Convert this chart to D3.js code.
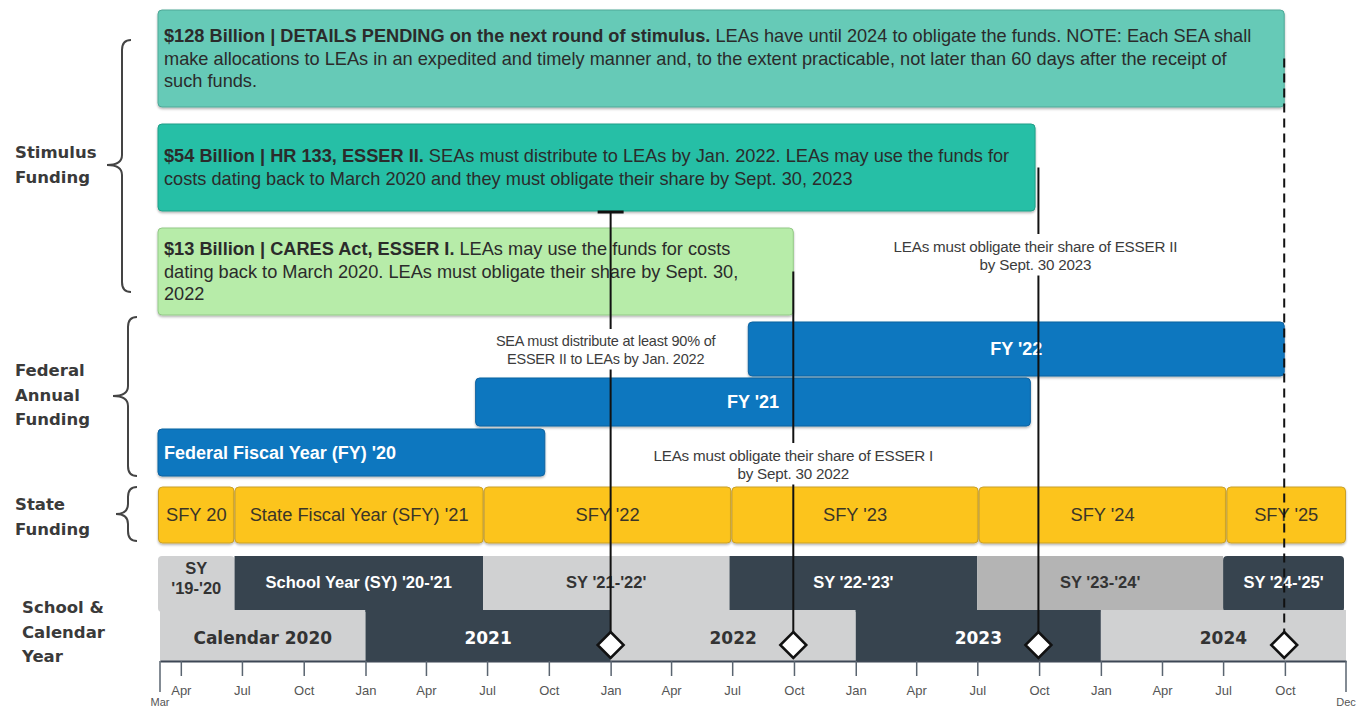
<!DOCTYPE html>
<html><head><meta charset="utf-8">
<script src="https://cdn.jsdelivr.net/npm/d3@7"></script>
<style>body{margin:0;background:#fff} svg{display:block}</style>
</head><body><svg id="c" width="1359" height="713"></svg>
<script>
// ---------------- DATA ----------------
const axisStart = "2020-03-01";
const axisEnd = "2024-12-31";
const axisEndLabels = ["Mar", "Dec"];

// Stimulus funding
const stimulusBold = [
  "$128 Billion | DETAILS PENDING on the next round of stimulus.",
  "$54 Billion | HR 133, ESSER II.",
  "$13 Billion | CARES Act, ESSER I."
];
const stimulusLines = [
  [" LEAs have until 2024 to obligate the funds. NOTE: Each SEA shall",
   "make allocations to LEAs in an expedited and timely manner and, to the extent practicable, not later than 60 days after the receipt of",
   "such funds."],
  [" SEAs must distribute to LEAs by Jan. 2022. LEAs may use the funds for",
   "costs dating back to March 2020 and they must obligate their share by Sept. 30, 2023"],
  [" LEAs may use the funds for costs",
   "dating back to March 2020. LEAs must obligate their share by Sept. 30,",
   "2022"]
];
const stimulusStart = ["2020-03-01", "2020-03-01", "2020-03-01"];
const stimulusEnd = ["2024-09-30", "2023-09-25", "2022-09-30"];

// Federal annual funding
const fyLabels = ["FY '22", "FY '21", "Federal Fiscal Year (FY) '20"];
const fyStart = ["2022-07-25", "2021-06-14", "2020-03-01"];
const fyEnd = ["2024-09-30", "2023-09-18", "2021-09-25"];

// State funding
const sfyLabels = ["SFY 20", "State Fiscal Year (SFY) '21", "SFY '22", "SFY '23", "SFY '24", "SFY '25"];
const sfyBounds = ["2020-03-01", "2020-06-20", "2021-06-26", "2022-06-30", "2023-07-03", "2024-07-06", "2024-12-31"];

// School years
const syLabels = [["SY", "'19-'20"], ["School Year (SY) '20-'21"], ["SY '21-'22'"], ["SY '22-'23'"], ["SY '23-'24'"], ["SY '24-'25'"]];
const syBounds = ["2020-03-01", "2020-06-20", "2021-06-25", "2022-06-27", "2023-07-01", "2024-07-01", "2024-12-28"];

// Calendar years
const calLabels = ["Calendar 2020", "2021", "2022", "2023", "2024"];
const calBounds = ["2020-03-01", "2021-01-01", "2022-01-01", "2023-01-01", "2024-01-01", "2024-12-31"];

// Milestones
const milestoneDates = ["2022-01-01", "2022-09-30", "2023-09-30", "2024-09-30"];
const milestoneNotes = [
  ["SEA must distribute at least 90% of", "ESSER II to LEAs by Jan. 2022"],
  ["LEAs must obligate their share of ESSER I", "by Sept. 30 2022"],
  ["LEAs must obligate their share of ESSER II", "by Sept. 30 2023"],
  []
];

// Group labels
const groupLabels = [["Stimulus", "Funding"], ["Federal", "Annual", "Funding"], ["State", "Funding"], ["School &", "Calendar", "Year"]];

// ---------------- LAYOUT / STYLE ----------------
const parse = d3.timeParse("%Y-%m-%d");
const svg = d3.select("#c");
const x = d3.scaleTime().domain([parse(axisStart), parse(axisEnd)]).range([160, 1346]);

const sansF = "'Liberation Sans', Arial, sans-serif";
const wideF = "'DejaVu Sans', Verdana, sans-serif";

const defs = svg.append("defs");
const f = defs.append("filter").attr("id", "sh").attr("x", "-5%").attr("y", "-10%").attr("width", "110%").attr("height", "130%");
f.append("feDropShadow").attr("dx", 0).attr("dy", 1.5).attr("stdDeviation", 1.2).attr("flood-color", "#000").attr("flood-opacity", 0.3);

const stimTop = [10, 124, 228], stimH = [97, 87, 87];
const stimFill = ["#66cab7", "#28bfa6", "#b7eca9"];
const stimStroke = ["#4ea897", "#1f9f88", "#93c987"];

const gStim = svg.append("g");
stimulusBold.forEach((b, i) => {
  const x0 = x(parse(stimulusStart[i])) - 2, x1 = x(parse(stimulusEnd[i]));
  gStim.append("rect").attr("x", x0).attr("y", stimTop[i]).attr("width", x1 - x0).attr("height", stimH[i])
    .attr("rx", 4).attr("fill", stimFill[i]).attr("stroke", stimStroke[i]).attr("stroke-width", 1).attr("filter", "url(#sh)");
  const lines = stimulusLines[i];
  const lh = 22.5;
  const mid = stimTop[i] + stimH[i] / 2;
  const firstBase = mid - (lines.length - 1) * lh / 2 + 6;
  const t = gStim.append("text").attr("font-family", sansF).attr("font-size", 18.2).attr("fill", "#2b2b2b");
  lines.forEach((ln, j) => {
    const yy = firstBase + j * lh;
    if (j === 0) {
      t.append("tspan").attr("x", x0 + 6).attr("y", yy).attr("font-weight", "bold").text(b);
      t.append("tspan").text(ln);
    } else {
      t.append("tspan").attr("x", x0 + 6).attr("y", yy).text(ln);
    }
  });
});

// Federal
const fyTop = [322, 378, 429], fyH = [54, 48, 47];
const gFy = svg.append("g");
fyLabels.forEach((lab, i) => {
  const x0 = x(parse(fyStart[i])) - (i === 2 ? 2 : 0), x1 = x(parse(fyEnd[i]));
  gFy.append("rect").attr("x", x0).attr("y", fyTop[i]).attr("width", x1 - x0).attr("height", fyH[i])
    .attr("rx", 4).attr("fill", "#0a77bf").attr("stroke", "#0a62a0").attr("stroke-width", 1).attr("filter", "url(#sh)");
  const t = gFy.append("text").attr("font-family", sansF).attr("font-size", 18).attr("font-weight", "bold")
    .attr("fill", "#fff").attr("y", fyTop[i] + fyH[i] / 2 + 6).text(lab);
  if (i === 2) t.attr("x", x0 + 6);
  else t.attr("x", (x0 + x1) / 2).attr("text-anchor", "middle");
});

// State
const gS = svg.append("g");
sfyLabels.forEach((lab, i) => {
  const x0 = x(parse(sfyBounds[i])) - (i === 0 ? 2 : 0), x1 = x(parse(sfyBounds[i + 1]));
  gS.append("rect").attr("x", x0 + 0.5).attr("y", 487).attr("width", x1 - x0 - 1).attr("height", 56)
    .attr("rx", 4).attr("fill", "#fcc41e").attr("stroke", "#c9a02a").attr("stroke-width", 1).attr("filter", "url(#sh)");
  gS.append("text").attr("x", (x0 + x1) / 2).attr("y", 521).attr("text-anchor", "middle")
    .attr("font-family", sansF).attr("font-size", 18.3).attr("fill", "#3a3528").text(lab);
});

// School years
const syFill = ["#d0d1d2", "#37444f", "#d0d1d2", "#37444f", "#b4b4b4", "#37444f"];
const syText = ["#333", "#fff", "#333", "#fff", "#333", "#fff"];
const gSy = svg.append("g");
syLabels.forEach((lab, i) => {
  const x0 = x(parse(syBounds[i])) - (i === 0 ? 2 : 0), x1 = x(parse(syBounds[i + 1]));
  gSy.append("rect").attr("x", x0).attr("y", 556).attr("width", x1 - x0).attr("height", 56)
    .attr("rx", i === 0 || i === 5 ? 4 : 0).attr("fill", syFill[i]);
  const t = gSy.append("text").attr("text-anchor", "middle").attr("font-family", sansF)
    .attr("font-size", 16.5).attr("font-weight", "bold").attr("fill", syText[i]);
  if (lab.length === 1) {
    t.append("tspan").attr("x", (x0 + x1) / 2).attr("y", 588).text(lab[0]);
  } else {
    lab.forEach((l, j) => t.append("tspan").attr("x", (x0 + x1) / 2).attr("y", 574 + j * 20).text(l));
  }
});

// Calendar years
const calFill = ["#d0d1d2", "#37444f", "#d0d1d2", "#37444f", "#d0d1d2"];
const calText = ["#333", "#fff", "#333", "#fff", "#333"];
const gCal = svg.append("g");
calLabels.forEach((lab, i) => {
  const x0 = x(parse(calBounds[i])), x1 = x(parse(calBounds[i + 1]));
  gCal.append("rect").attr("x", x0).attr("y", 610).attr("width", x1 - x0).attr("height", 51).attr("fill", calFill[i]);
  gCal.append("text").attr("x", (x0 + x1) / 2).attr("y", 644).attr("text-anchor", "middle")
    .attr("font-family", wideF).attr("font-size", 17).attr("font-weight", "bold").attr("fill", calText[i]).text(lab);
});

// Axis
const axisG = svg.append("g").attr("transform", "translate(0,661)");
const ax = d3.axisBottom(x).ticks(d3.timeMonth.every(3)).tickFormat(d3.timeFormat("%b")).tickSize(15).tickPadding(10).tickSizeOuter(0);
axisG.call(ax);
axisG.select(".domain").attr("stroke", "#3d4755").attr("stroke-width", 2);
axisG.selectAll(".tick line").attr("stroke", "#5a6470").attr("stroke-width", 1.5);
axisG.selectAll(".tick text").attr("font-family", sansF).attr("font-size", 13).attr("fill", "#555");
const endDates = [parse(axisStart), parse(axisEnd)];
axisG.selectAll(".endtick").data(endDates).enter().append("line")
  .attr("x1", d => x(d)).attr("x2", d => x(d)).attr("y1", 0).attr("y2", 31).attr("stroke", "#5a6470").attr("stroke-width", 1.5);
axisG.selectAll(".endlab").data(axisEndLabels).enter().append("text")
  .attr("x", (d, i) => x(endDates[i])).attr("y", 45).attr("text-anchor", "middle")
  .attr("font-family", sansF).attr("font-size", 11).attr("fill", "#555").text(d => d);

// Milestone lines
const lineTop = [212, stimTop[2] + stimH[2] / 2, stimTop[1] + stimH[1] / 2, stimTop[0] + stimH[0] / 2];
const diamondY = 645, dR = 13;
const gM = svg.append("g");
milestoneDates.forEach((d, i) => {
  const xx = x(parse(d));
  gM.append("line").attr("x1", xx).attr("x2", xx).attr("y1", lineTop[i]).attr("y2", diamondY - dR)
    .attr("stroke", "#111").attr("stroke-width", 2).attr("stroke-dasharray", i === 3 ? "9,6" : null);
  if (i === 0) gM.append("line").attr("x1", xx - 13).attr("x2", xx + 13).attr("y1", lineTop[i]).attr("y2", lineTop[i])
    .attr("stroke", "#111").attr("stroke-width", 3);
});
// Notes
const noteMid = [349, 464, 255];
const noteDx = [-5, 0, -3];
milestoneNotes.forEach((n, i) => {
  if (!n.length) return;
  const xx = x(parse(milestoneDates[i])) + noteDx[i];
  const g = gM.append("g");
  const t = g.append("text").attr("text-anchor", "middle").attr("font-family", sansF).attr("font-size", i === 0 ? 14.5 : 15.2)
    .attr("fill", "#3c3c3c").attr("letter-spacing", -0.2);
  n.forEach((l, j) => t.append("tspan").attr("x", xx).attr("y", noteMid[i] - 3 + j * 17.5).text(l));
  const bb = t.node().getBBox();
  g.insert("rect", "text").attr("x", bb.x - 4).attr("y", bb.y - 4).attr("width", bb.width + 8).attr("height", bb.height + 7).attr("fill", "#fff");
});
// Diamonds
milestoneDates.forEach(d => {
  const xx = x(parse(d));
  gM.append("path").attr("d", `M${xx},${diamondY - dR} L${xx + dR},${diamondY} L${xx},${diamondY + dR} L${xx - dR},${diamondY} Z`)
    .attr("fill", "#fff").attr("stroke", "#111").attr("stroke-width", 2.5);
});

// Group labels and braces
const labelTop = [152, 370, 504, 607];
const labelX = [15, 15, 15, 22];
groupLabels.forEach((g, i) => {
  const t = svg.append("text").attr("font-family", wideF).attr("font-size", 16.5).attr("font-weight", "bold").attr("fill", "#3a3a3a");
  g.forEach((l, j) => t.append("tspan").attr("x", labelX[i]).attr("y", labelTop[i] + 6 + j * 24.5).text(l));
});
const braces = [[131, 40, 292, 165, 107], [137, 317, 476, 396, 113], [137, 487, 541, 514, 116]];
braces.forEach(([x0, y1, y2, ym, xt]) => {
  const xb = x0 - 9, r = Math.min(10, (y2 - y1) / 5);
  const p = `M${x0},${y1} Q${xb},${y1} ${xb},${y1 + r} L${xb},${ym - r} Q${xb},${ym} ${xt},${ym} Q${xb},${ym} ${xb},${ym + r} L${xb},${y2 - r} Q${xb},${y2} ${x0},${y2}`;
  svg.append("path").attr("d", p).attr("fill", "none").attr("stroke", "#444").attr("stroke-width", 2);
});
</script></body></html>
